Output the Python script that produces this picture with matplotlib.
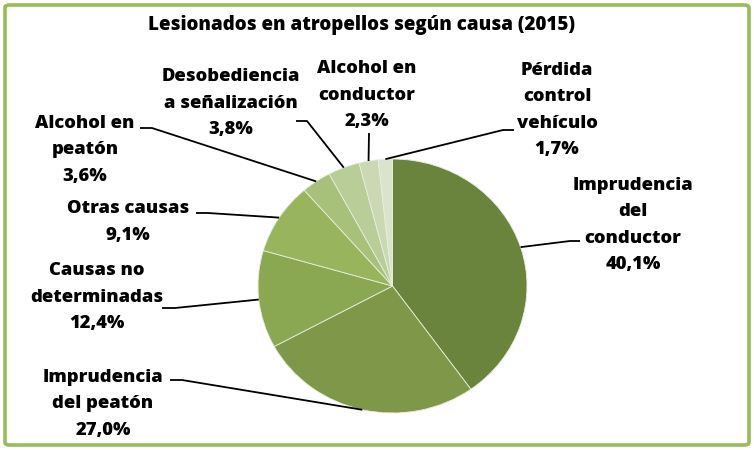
import matplotlib
matplotlib.use("Agg")
import matplotlib.pyplot as plt
from matplotlib.patches import FancyBboxPatch
import numpy as np

plt.rcParams['font.family'] = ['Open Sans', 'DejaVu Sans']

title = "Lesionados en atropellos según causa (2015)"
categories = ["Imprudencia\ndel\nconductor", "Imprudencia\ndel peatón", "Causas no\ndeterminadas",
              "Otras causas", "Alcohol en\npeatón", "Desobediencia\na señalización",
              "Alcohol en\nconductor", "Pérdida\ncontrol\nvehículo"]
values = [40.1, 27.0, 12.4, 9.1, 3.6, 3.8, 2.3, 1.7]
colors = ["#6A833D", "#7F9748", "#8AA852", "#98B45C", "#A8C17A", "#B8CD98", "#CAD9B4", "#DAE4CB"]

W, H = 754, 450
fig = plt.figure(figsize=(W / 100, H / 100), dpi=100)
fig.patch.set_facecolor("white")

# border
border = FancyBboxPatch((5 / W, 5 / H), (W - 10) / W, (H - 10) / H,
                        boxstyle="round,pad=0,rounding_size=0.006",
                        transform=fig.transFigure, facecolor="none",
                        edgecolor="#9BBB59", linewidth=2.6)
fig.patches.append(border)

# pie axes (pixel layout)
cx, cy, rx, ry = 392.5, 286, 134.5, 127
ax = fig.add_axes([(cx - rx) / W, (H - cy - ry) / H, 2 * rx / W, 2 * ry / H])
wedges, _ = ax.pie(values, colors=colors, startangle=90, counterclock=False,
                   wedgeprops=dict(edgecolor="#E8EEDC", linewidth=0.6))
ax.set_aspect("auto")
ax.set_xlim(-1, 1)
ax.set_ylim(-1, 1)
ax.axis("off")

# overlay for labels (pixel coords, top origin)
ov = fig.add_axes([0, 0, 1, 1], facecolor="none")
ov.set_xlim(0, W)
ov.set_ylim(H, 0)
ov.axis("off")

fig.text(0.5 * (146 + 578) / W, 1 - 25 / H, title, ha="center", va="center",
         fontsize=13.5, fontweight="heavy")

# label layout: text center, stub outer, stub inner (pixels)
layout = [
    ((633, 225), (580, 241), (570, 241)),
    ((103, 404), (170, 380), (182, 380)),
    ((97, 297), (162, 308), (175, 308)),
    ((128, 222), (196, 213), (208, 213)),
    ((85, 150), (140, 128), (152, 128)),
    ((231, 103), (296, 121), (307, 121)),
    ((367, 95), (369, 133), (369, 133)),
    ((557, 110), (514, 130), (503, 130)),
]

total = sum(values)
start = 90.0
for val, cat, (tc, so, si) in zip(values, categories, layout):
    ext = val / total * 360
    mid = np.deg2rad(start - ext / 2)
    start -= ext
    ex, ey = np.cos(mid), np.sin(mid)
    disp = ax.transData.transform((ex, ey))
    px, py = ov.transData.inverted().transform(disp)
    ov.plot([so[0], si[0], px], [so[1], si[1], py], color="black", lw=1.3,
            solid_capstyle="butt")
    label = f"{cat}\n{val:.1f}%".replace(".", ",")
    ov.text(tc[0], tc[1], label, ha="center", va="center", fontsize=13.2,
            fontweight="heavy", linespacing=1.7, color="black")

fig.savefig("out.png", dpi=100, facecolor="white")
